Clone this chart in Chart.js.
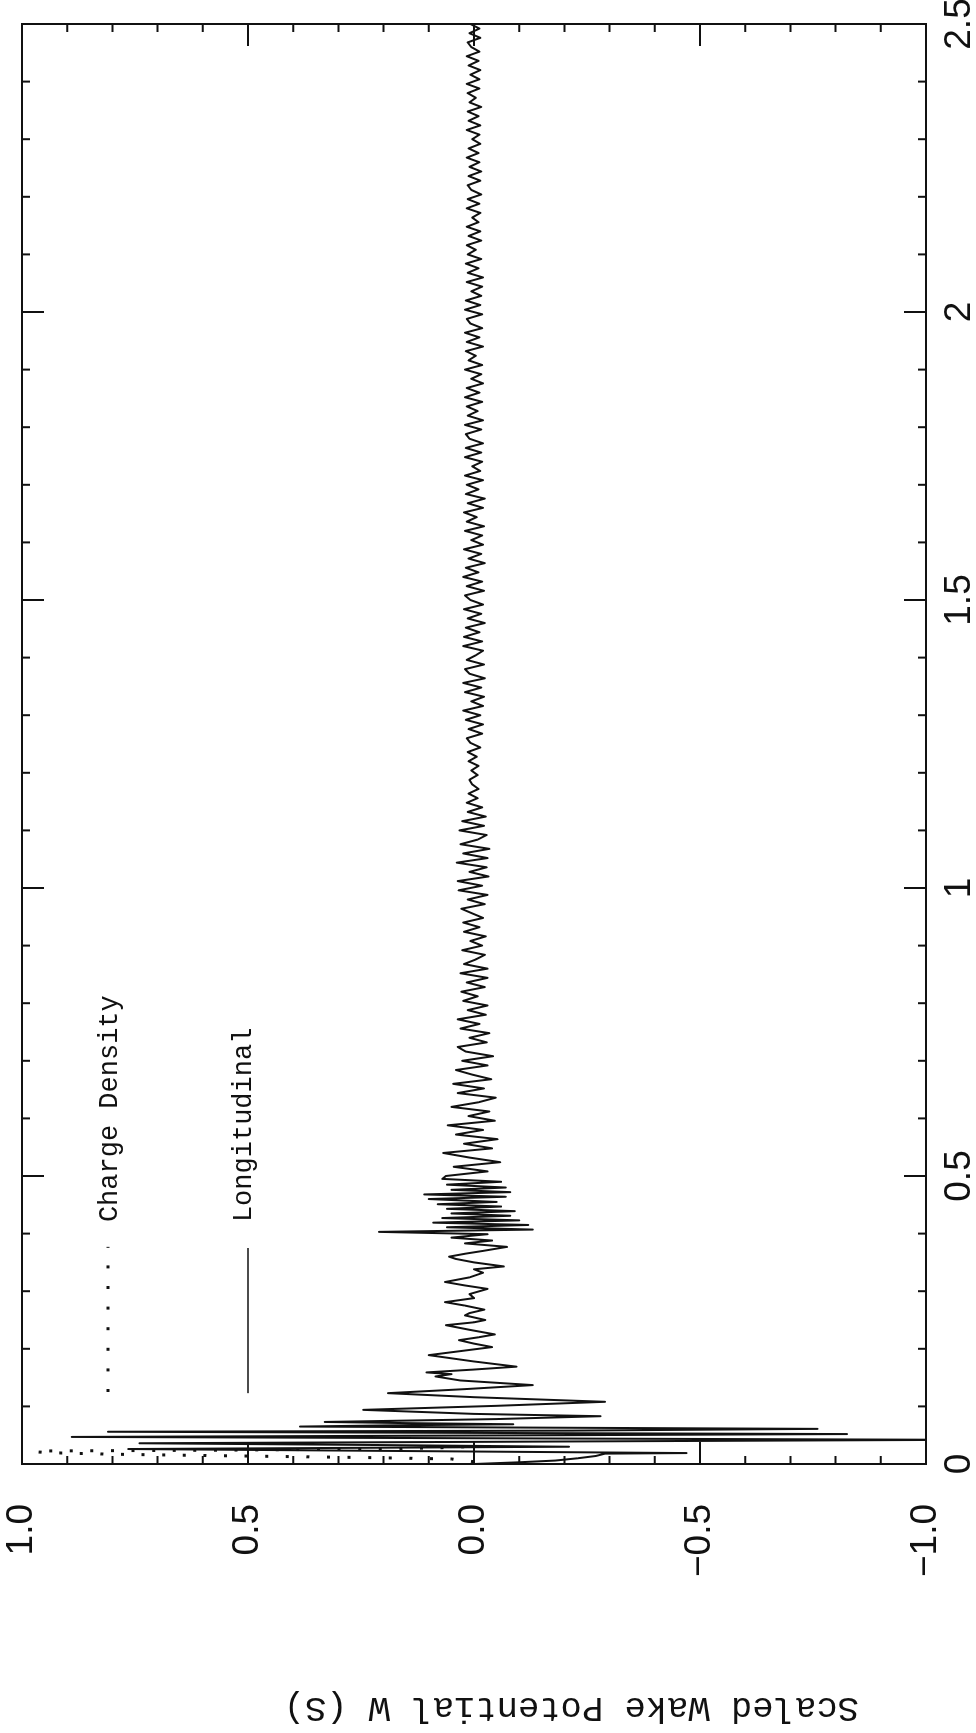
<!DOCTYPE html>
<html lang="en">
<head>
<meta charset="utf-8">
<title>Scaled Wake Potential</title>
<script src="https://cdn.jsdelivr.net/npm/chart.js"></script>
<style>
  html, body { margin: 0; padding: 0; background: #fff; }
  body { width: 976px; height: 1733px; overflow: hidden; position: relative; }
  /* the plot is drawn in landscape, then turned a quarter turn like the scan */
  #turn { position: absolute; left: 0; top: 0; width: 1733px; height: 976px;
          transform-origin: 0 0; transform: translate(0, 1733px) rotate(-90deg); }
  #wakeChart { display: block; }
</style>
</head>
<body>
<div id="turn"><canvas id="wakeChart" width="1733" height="976"></canvas></div>
<script>
// axis ticks
const xTickValues = [0, 0.5, 1, 1.5, 2, 2.5];
const xTickLabels = ['0', '0.5', '1', '1.5', '2', '2.5'];
const yTickValues = [-1, -0.5, 0, 0.5, 1];
const yTickLabels = ['\u22121.0', '\u22120.5', '0.0', '0.5', '1.0'];

// charge density (dotted), only non zero right at the start
const chargeS = [0.004, 0.0087, 0.011, 0.013, 0.015, 0.017, 0.019, 0.021, 0.0226, 0.024, 0.026, 0.028, 0.030, 0.033];
const chargeW = [0.0, 0.05, 0.22, 0.42, 0.62, 0.80, 0.91, 0.97, 0.97, 0.56, 0.25, 0.08, 0.02, 0.0];

// longitudinal wake, first part read point by point (big spikes)
const wakeEarlyS = [
  0.000, 0.003, 0.006, 0.010, 0.014, 0.018, 0.019, 0.026, 0.030, 0.033,
  0.036, 0.042, 0.047, 0.050, 0.052, 0.056, 0.058, 0.061, 0.065, 0.067,
  0.069, 0.071, 0.073, 0.078, 0.083, 0.087, 0.094, 0.101, 0.108, 0.116,
  0.123, 0.130, 0.137, 0.145, 0.152, 0.156, 0.159, 0.164, 0.169, 0.178,
  0.189, 0.197, 0.203, 0.209, 0.215, 0.220, 0.225, 0.233, 0.241, 0.246,
  0.250, 0.258, 0.262, 0.268, 0.275, 0.281, 0.288, 0.295, 0.304, 0.310,
  0.316, 0.324, 0.332, 0.338, 0.343, 0.350, 0.356, 0.360, 0.365, 0.370,
  0.377, 0.383, 0.388, 0.393, 0.399, 0.403, 0.407, 0.411, 0.415, 0.419,
  0.423, 0.427, 0.431, 0.435, 0.439, 0.443, 0.447, 0.451, 0.455, 0.460,
  0.464, 0.468, 0.472, 0.476, 0.480, 0.485, 0.490, 0.495
];
const wakeEarlyW = [
  0.00, -0.10, -0.18, -0.23, -0.27, -0.29, -0.47, 0.765, -0.21, 0.22,
  0.74, -1.08, 0.89, -0.20, -0.825, 0.81, -0.22, -0.76, 0.385, 0.20,
  -0.087, 0.15, 0.33, -0.05, -0.28, 0.00, 0.245, -0.05, -0.29, 0.00,
  0.19, 0.02, -0.13, 0.03, 0.085, 0.05, 0.105, 0.00, -0.094, 0.00,
  0.10, 0.02, -0.04, 0.00, 0.033, -0.01, -0.046, 0.01, 0.062, 0.00,
  -0.025, 0.02, 0.01, -0.023, 0.02, 0.064, 0.00, 0.01, -0.03, 0.02,
  0.064, 0.01, -0.02, 0.00, -0.066, 0.00, 0.04, 0.055, 0.02, -0.02,
  -0.073, 0.02, -0.04, 0.05, -0.03, 0.21, -0.13, 0.06, -0.12, 0.09,
  -0.10, 0.07, -0.08, 0.05, -0.09, 0.06, -0.06, 0.08, -0.05, 0.10,
  -0.07, 0.11, -0.08, 0.05, -0.07, 0.06, -0.06, 0.07
];

// longitudinal wake from S = 0.5 on, one value every 0.008
const wakeLateStart = 0.5;
const wakeLateStep = 0.008;
const wakeLateW = [
  0.062, -0.030, 0.045, -0.058, 0.010, 0.068, -0.040, 0.022, -0.052, 0.040,
  -0.020, 0.058, -0.046, 0.012, -0.034, 0.050, -0.010, -0.048, 0.036, -0.022,
  0.046, -0.038, 0.004, 0.040, -0.030, 0.026, -0.042, 0.018, 0.036, -0.028,
  0.010, -0.034, 0.030, -0.012, 0.036, -0.026, 0.014, -0.030, 0.024, -0.008,
  0.028, -0.024, 0.016, -0.030, 0.030, -0.030, 0.022, -0.004, -0.024, 0.026,
  -0.018, 0.008, -0.026, 0.022, -0.012, 0.024, -0.020, 0.004, 0.028, -0.024,
  0.014, -0.030, 0.034, -0.018, 0.036, -0.032, 0.010, -0.028, 0.038, -0.030,
  0.024, -0.034, 0.030, -0.008, -0.028, 0.032, -0.022, 0.026, -0.026, 0.014,
  -0.018, 0.016, -0.008, 0.012, -0.010, 0.004, 0.010, -0.008, 0.006, -0.010,
  0.012, -0.006, 0.014, -0.014, 0.008, 0.016, -0.018, 0.012, -0.020, 0.018,
  -0.014, 0.024, -0.020, 0.006, -0.022, 0.020, -0.016, 0.024, -0.024, 0.010,
  0.020, -0.022, 0.016, -0.004, -0.020, 0.024, -0.018, 0.022, -0.012, 0.018,
  -0.024, 0.014, -0.016, 0.022, -0.020, 0.008, 0.020, -0.022, 0.016, -0.018,
  0.024, -0.010, 0.018, -0.024, 0.012, -0.016, 0.022, -0.020, 0.006, -0.018,
  0.020, -0.022, 0.016, -0.006, 0.022, -0.020, 0.014, -0.024, 0.018, -0.010,
  0.016, -0.020, 0.020, -0.014, 0.004, -0.018, 0.020, -0.016, 0.018, -0.020,
  0.010, 0.018, -0.016, 0.020, -0.020, 0.014, -0.008, 0.016, -0.018, 0.020,
  -0.012, 0.016, -0.020, 0.006, -0.016, 0.020, -0.018, 0.012, -0.004, 0.018,
  -0.020, 0.016, -0.012, 0.020, -0.018, 0.008, 0.016, -0.018, 0.020, -0.014,
  0.018, -0.016, 0.006, -0.018, 0.016, -0.020, 0.014, -0.010, 0.018, -0.016,
  0.014, -0.004, 0.016, -0.016, 0.012, -0.014, 0.016, -0.010, 0.004, -0.014,
  0.016, -0.012, 0.014, -0.016, 0.006, 0.014, -0.014, 0.012, -0.016, 0.010,
  -0.012, 0.016, -0.010, 0.012, -0.014, 0.004, -0.012, 0.016, -0.014, 0.012,
  -0.010, 0.014, -0.016, 0.010, -0.004, 0.014, -0.012, 0.016, -0.012, 0.008,
  -0.014, 0.012, -0.010, 0.016, -0.012, 0.006, 0.014, -0.014, 0.010, -0.012,
  0.008
];

function buildWakePoints() {
  const pts = wakeEarlyS.map((s, i) => ({ x: s, y: wakeEarlyW[i] }));
  wakeLateW.forEach((w, i) => {
    const s = Math.round((wakeLateStart + i * wakeLateStep) * 1000) / 1000;
    pts.push({ x: s, y: w });
  });
  return pts;
}

// box with inward ticks on all four sides, like the old plotter output
const frameTicks = {
  id: 'frameTicks',
  afterDatasetsDraw(chart) {
    const { ctx, chartArea: a, scales: { x, y } } = chart;
    ctx.save();
    ctx.strokeStyle = '#111';
    ctx.lineWidth = 2;
    ctx.strokeRect(a.left, a.top, a.right - a.left, a.bottom - a.top);
    ctx.beginPath();
    for (let k = 0; k <= 25; k++) {
      const px = x.getPixelForValue(k / 10);
      const len = k % 5 === 0 ? 22 : 8;
      ctx.moveTo(px, a.bottom); ctx.lineTo(px, a.bottom - len);
      ctx.moveTo(px, a.top); ctx.lineTo(px, a.top + len);
    }
    for (let k = -10; k <= 10; k++) {
      const py = y.getPixelForValue(k / 10);
      const len = k % 5 === 0 ? 22 : 8;
      ctx.moveTo(a.left, py); ctx.lineTo(a.left + len, py);
      ctx.moveTo(a.right, py); ctx.lineTo(a.right - len, py);
    }
    ctx.stroke();
    ctx.restore();
  }
};

// key inside the plot and the axis title
const notes = {
  id: 'notes',
  afterDraw(chart) {
    const { ctx, chartArea: a, scales: { x, y } } = chart;
    ctx.save();
    ctx.strokeStyle = '#111';
    ctx.fillStyle = '#111';

    ctx.lineWidth = 3;
    ctx.setLineDash([3, 17.6]);
    ctx.beginPath();
    ctx.moveTo(x.getPixelForValue(0.125), y.getPixelForValue(0.81));
    ctx.lineTo(x.getPixelForValue(0.377), y.getPixelForValue(0.81));
    ctx.stroke();

    ctx.setLineDash([]);
    ctx.lineWidth = 1.6;
    ctx.beginPath();
    ctx.moveTo(x.getPixelForValue(0.123), y.getPixelForValue(0.5));
    ctx.lineTo(x.getPixelForValue(0.375), y.getPixelForValue(0.5));
    ctx.stroke();

    ctx.font = '27px "Liberation Mono"';
    ctx.textAlign = 'left';
    ctx.textBaseline = 'middle';
    ctx.fillText('Charge Density', x.getPixelForValue(0.42), y.getPixelForValue(0.805));
    ctx.fillText('Longitudinal', x.getPixelForValue(0.42), y.getPixelForValue(0.51));

    ctx.translate(a.left - 243, y.getPixelForValue(-0.215));
    ctx.rotate(-Math.PI / 2);
    ctx.font = '35.5px "Liberation Mono"';
    ctx.textAlign = 'center';
    ctx.fillText('Scaled Wake Potential W (S)', 0, 0);
    ctx.restore();
  }
};

function drawChart() {
  const ctx = document.getElementById('wakeChart').getContext('2d');
  new Chart(ctx, {
    type: 'line',
    data: {
      datasets: [{
        label: 'Longitudinal',
        data: buildWakePoints(),
        borderColor: '#111',
        borderWidth: 2,
        borderJoinStyle: 'round',
        pointRadius: 0,
        tension: 0
      }, {
        label: 'Charge Density',
        data: chargeS.map((s, i) => ({ x: s, y: chargeW[i] })),
        borderColor: '#111',
        borderWidth: 3,
        borderDash: [3, 17.6],
        pointRadius: 0,
        tension: 0
      }]
    },
    options: {
      responsive: false,
      animation: false,
      devicePixelRatio: 1,
      layout: { padding: { top: 22, right: 24, bottom: 0, left: 0 } },
      plugins: { legend: { display: false }, tooltip: { enabled: false } },
      scales: {
        x: {
          type: 'linear',
          min: 0,
          max: 2.5,
          grid: { display: false, drawTicks: false },
          border: { display: false },
          afterBuildTicks: scale => { scale.ticks = xTickValues.map(v => ({ value: v })); },
          afterFit: scale => {
            scale.height = 50;
            scale.paddingLeft = 0; scale.paddingRight = 0;
          },
          ticks: {
            padding: 12,
            maxRotation: 0,
            color: '#111',
            font: { family: 'Liberation Sans', size: 37 },
            callback: (value, index) => xTickLabels[index]
          }
        },
        y: {
          min: -1,
          max: 1,
          grid: { display: false, drawTicks: false },
          border: { display: false },
          afterBuildTicks: scale => { scale.ticks = yTickValues.map(v => ({ value: v })); },
          afterFit: scale => {
            scale.width = 269;
            scale.paddingTop = 0; scale.paddingBottom = 0;
          },
          ticks: {
            padding: 40,
            color: '#111',
            font: { family: 'Liberation Sans', size: 37 },
            callback: (value, index) => yTickLabels[index]
          }
        }
      }
    },
    plugins: [frameTicks, notes]
  });
}

drawChart();
</script>
</body>
</html>
